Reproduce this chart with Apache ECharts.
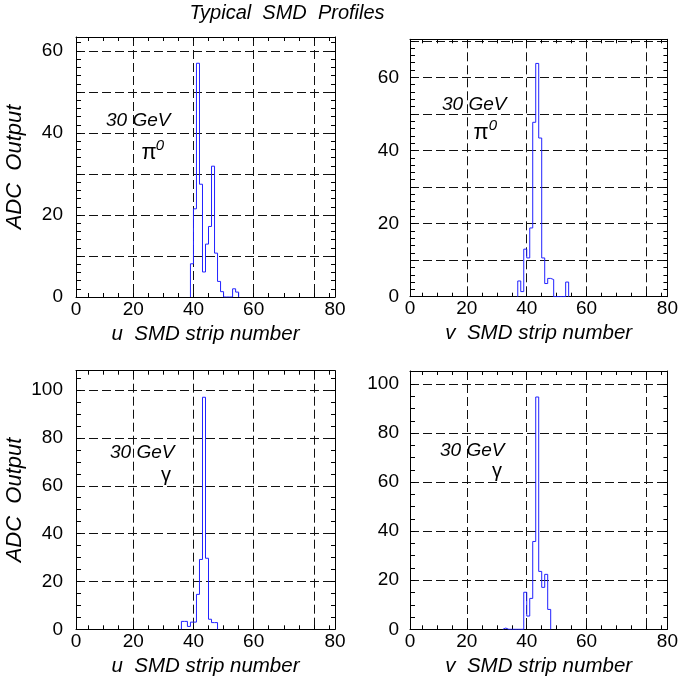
<!DOCTYPE html>
<html><head><meta charset="utf-8">
<script src="https://cdn.jsdelivr.net/npm/echarts@6/dist/echarts.min.js"></script>
<style>html,body{margin:0;padding:0;background:#fff}#c{width:681px;height:688px}</style>
</head><body><div id="c"></div>
<script>
const FONT = '"Liberation Sans", Arial, Helvetica, sans-serif';

// ---- data (strip number = left edge of 1-strip bin, ADC value) ----
const uPi0Strip = [39,40,41,42,43,44,45,46,47,48,49,50,51,52,53,54];
const uPi0ADC   = [8.1,21.5,57,27.5,6.1,12.9,17.2,31.9,10.7,3.8,1.3,0,0,0,2.0,1.2];

const vPi0Strip = [37,38,39,40,41,42,43,44,45,46,47,48,49,50,51,52,53];
const vPi0ADC   = [4.3,1.4,13,10.6,18.8,47.7,63.8,43.4,10.6,3.6,5.0,4.7,0,0,0,0,4.0];

const uGamStrip = [36,37,38,39,40,41,42,43,44,45,46,47];
const uGamADC   = [3.3,3.3,1.2,3.0,3.0,14.6,29.2,97,29.7,4.2,2.8,2.8];

const vGamStrip = [32,33,34,35,36,37,38,39,40,41,42,43,44,45,46,47];
const vGamADC   = [0.5,0,0,0,0,0,0,15.1,5.4,12.6,35.8,94.7,23.6,17.1,22.4,8.1];

// ---- axis tick labels ----
const xLabelValues = [1,20,40,60,87];
const xTickLabels  = ['0','20','40','60','80'];
const xGridValues  = [20,40,60,80];
const yLabelsPi0   = [0,20,40,60];
const yLabelsGam   = [0,20,40,60,80,100];

const X_MIN = 1, X_MAX = 87;

function range(a,b,s){const r=[];for(let v=a;v<=b+1e-9;v+=s)r.push(+v.toFixed(6));return r;}

const panels = [
  {strip:uPi0Strip, adc:uPi0ADC, yMax:63.4, yGridStep:10, yTickStep:2, yLabels:yLabelsPi0, labelMargin:13,
   xName:'u  SMD strip number', yName:'ADC  Output', grid:{left:76, top:37, width:259, height:260}},
  {strip:vPi0Strip, adc:vPi0ADC, yMax:70.4, yGridStep:10, yTickStep:2, yLabels:yLabelsPi0, labelMargin:11,
   xName:'v  SMD strip number', yName:'', grid:{left:410, top:39.3, width:260, height:257.4}},
  {strip:uGamStrip, adc:uGamADC, yMax:108.1, yGridStep:20, yTickStep:5, yLabels:yLabelsGam, labelMargin:13,
   xName:'u  SMD strip number', yName:'ADC  Output', grid:{left:76, top:370.7, width:259, height:258.6}},
  {strip:vGamStrip, adc:vGamADC, yMax:105.3, yGridStep:20, yTickStep:5, yLabels:yLabelsGam, labelMargin:11,
   xName:'v  SMD strip number', yName:'', grid:{left:410, top:371, width:259.3, height:258.3}}
];

function histPoints(strips, vals){
  const pts=[[strips[0],0]];
  strips.forEach((s,i)=>pts.push([s, vals[i]]));
  pts.push([strips[strips.length-1]+1, 0]);
  return pts;
}

const axisLineStyle = {color:'#000', width:1};
const dash = {type:[9,4], color:'#111', width:1};
const labelStyle = {fontFamily:FONT, fontSize:19, color:'#000'};
const xNameStyle = {fontFamily:FONT, fontSize:20.5, fontStyle:'italic', color:'#000'};
const yNameStyle = {fontFamily:FONT, fontSize:22, fontStyle:'italic', color:'#000'};

const grids=[], xAxes=[], yAxes=[], series=[];
const xTicks = range(5,85,5);

panels.forEach((p,i)=>{
  grids.push(Object.assign({containLabel:false}, p.grid));
  const yTicks = range(p.yTickStep, p.yMax, p.yTickStep);
  const yGrid = range(p.yGridStep, p.yMax, p.yGridStep);
  // x axes
  xAxes.push({gridIndex:i, type:'value', min:X_MIN, max:X_MAX, position:'bottom',
    axisLine:{show:true, onZero:false, lineStyle:axisLineStyle},
    axisTick:{show:true, inside:true, length:4, customValues:xTicks, lineStyle:axisLineStyle},
    axisLabel:Object.assign({show:true, margin:3, customValues:xLabelValues,
      formatter:v=>{const k=xLabelValues.indexOf(v);return k>=0?xTickLabels[k]:'';}}, labelStyle),
    splitLine:{show:false},
    name:p.xName, nameLocation:'middle', nameGap:27, nameTextStyle:xNameStyle});
  xAxes.push({gridIndex:i, type:'value', min:X_MIN, max:X_MAX, position:'top',
    axisLine:{show:true, onZero:false, lineStyle:axisLineStyle},
    axisTick:{show:true, inside:true, length:4, customValues:xTicks, lineStyle:axisLineStyle},
    axisLabel:{show:false}, splitLine:{show:false}});
  xAxes.push({gridIndex:i, type:'value', min:X_MIN, max:X_MAX, position:'top',
    axisLine:{show:false}, axisTick:{show:false, customValues:xGridValues},
    axisLabel:{show:false}, splitLine:{show:true, lineStyle:dash}});
  // y axes
  yAxes.push({gridIndex:i, type:'value', min:0, max:p.yMax, position:'left',
    axisLine:{show:true, onZero:false, lineStyle:axisLineStyle},
    axisTick:{show:true, inside:true, length:5, customValues:yTicks, lineStyle:axisLineStyle},
    axisLabel:Object.assign({show:true, margin:p.labelMargin, customValues:p.yLabels}, labelStyle),
    splitLine:{show:false},
    name:p.yName, nameLocation:'middle', nameGap:50, nameRotate:90, nameTextStyle:yNameStyle});
  yAxes.push({gridIndex:i, type:'value', min:0, max:p.yMax, position:'right',
    axisLine:{show:true, onZero:false, lineStyle:axisLineStyle},
    axisTick:{show:true, inside:true, length:4, customValues:yTicks, lineStyle:axisLineStyle},
    axisLabel:{show:false}, splitLine:{show:false}});
  yAxes.push({gridIndex:i, type:'value', min:0, max:p.yMax, position:'right',
    axisLine:{show:false}, axisTick:{show:false, customValues:yGrid},
    axisLabel:{show:false}, splitLine:{show:true, lineStyle:dash}});
  series.push({type:'line', xAxisIndex:3*i, yAxisIndex:3*i, step:'end',
    data:histPoints(p.strip, p.adc), showSymbol:false, symbol:'none',
    lineStyle:{color:'#2222ff', width:1}, silent:true, animation:false, z:3});
});

function txt(x,y,text,size,italic,align){
  return {type:'text', x:x, y:y, z:10, style:{text:text, fill:'#000', fontFamily:FONT,
    fontSize:size, fontStyle:italic?'italic':'normal', align:align||'left', verticalAlign:'middle'}};
}

const graphics = [
  txt(287,13,'Typical  SMD  Profiles',20,true,'center'),
  txt(106,121,'30 GeV',19,true),
  txt(149,153,'π',22,false,'center'),
  txt(160,146,'0',15,true,'center'),
  txt(442,105,'30 GeV',19,true),
  txt(481,133,'π',22,false,'center'),
  txt(493,126,'0',15,true,'center'),
  txt(110,453,'30 GeV',19,true),
  txt(166,475,'γ',20,false,'center'),
  txt(440,451,'30 GeV',19,true),
  txt(497,471,'γ',20,false,'center')
];

const chart = echarts.init(document.getElementById('c'), null, {renderer:'canvas'});
chart.setOption({animation:false, backgroundColor:'#fff',
  grid:grids, xAxis:xAxes, yAxis:yAxes, series:series, graphic:graphics});
</script></body></html>
